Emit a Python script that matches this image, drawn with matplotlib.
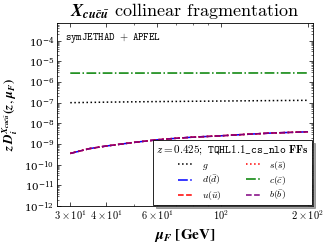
import numpy as np
import matplotlib
matplotlib.use("Agg")
import matplotlib.pyplot as plt

plt.rcParams['mathtext.fontset'] = 'cm'
plt.rcParams['font.family'] = 'serif'
plt.rcParams['font.serif'] = ['DejaVu Serif']

# scale values
mu_F = [30, 35, 40, 50, 60, 70, 80, 100, 120, 150, 200]

D_g = [1.00e-7, 1.03e-7, 1.06e-7, 1.10e-7, 1.13e-7, 1.15e-7, 1.17e-7, 1.20e-7, 1.23e-7, 1.26e-7, 1.30e-7]
D_c = [2.70e-6, 2.70e-6, 2.71e-6, 2.71e-6, 2.72e-6, 2.72e-6, 2.72e-6, 2.73e-6, 2.73e-6, 2.74e-6, 2.74e-6]
D_q = [3.5e-10, 6.0e-10, 8.0e-10, 1.2e-9, 1.6e-9, 1.9e-9, 2.15e-9, 2.5e-9, 2.9e-9, 3.4e-9, 3.9e-9]

series = [
    (r"$g$", D_g, 'black', ':'),
    (r"$d(\bar{d})$", D_q, 'blue', '-.'),
    (r"$u(\bar{u})$", D_q, 'red', '--'),
    (r"$s(\bar{s})$", D_q, 'red', ':'),
    (r"$c(\bar{c})$", D_c, 'green', '-.'),
    (r"$b(\bar{b})$", D_q, 'purple', '--'),
]

hadron = r"\mathbfit{X}_{\mathbfit{cu}\bar{\mathbfit{c}}\bar{\mathbfit{u}}}"

fig = plt.figure(figsize=(3.28, 2.47), dpi=100)
ax = fig.add_axes([0.174, 0.166, 0.780, 0.74])

for name, vals, col, ls in series:
    ax.plot(mu_F, vals, color=col, ls=ls, lw=1.1, label=name)

ax.set_xscale('log')
ax.set_yscale('log')
ax.set_xlim(27, 208)
ax.set_ylim(1e-12, 7e-4)
ax.set_yticks([10.0**k for k in range(-12, -3)])

ax.set_xticks([30, 40, 60, 100, 200])
ax.set_xticklabels([r"$3\times10^{1}$", r"$4\times10^{1}$", r"$6\times10^{1}$",
                    r"$10^{2}$", r"$2\times10^{2}$"])
ax.xaxis.set_minor_formatter(matplotlib.ticker.NullFormatter())
ax.tick_params(which='both', direction='in', top=True, right=True, labelsize=7.5, pad=2)
ax.tick_params(which='major', length=3, width=0.5)
ax.tick_params(which='minor', length=1.5, width=0.4)
for sp in ax.spines.values():
    sp.set_linewidth(0.6)

ax.set_title("$" + hadron + "$ collinear fragmentation", fontsize=13, pad=5,
             fontfamily='cmr10', math_fontfamily='stix')
ax.set_xlabel(r"$\mathbfit{\mu}_{\mathbfit{F}}\ \mathbf{[GeV]}$", fontsize=11,
              math_fontfamily='stix', labelpad=3)
ax.set_ylabel(r"$\mathbfit{z\,D}_{\mathbfit{i}}^{" + hadron + r"}\mathbf{(}\mathbfit{z},\,\mathbfit{\mu}_{\mathbfit{F}}\mathbf{)}$",
              fontsize=9.5, math_fontfamily='stix')
ax.yaxis.set_label_coords(-0.145, 0.5)

ax.text(0.03, 0.92, r"$\mathtt{symJETHAD\ +\ APFEL}$", transform=ax.transAxes,
        fontsize=7.5, va='center', ha='left')

leg = ax.legend(ncol=2, loc='lower right', fontsize=7, handlelength=1.6,
                title=r"$z = 0.425;\ \mathtt{TQHL1.1\_cs\_nlo}\ \mathbf{FFs}$",
                title_fontsize=8, frameon=True, fancybox=False, shadow=True,
                edgecolor='black', borderpad=0.3, labelspacing=0.2,
                columnspacing=2.5, borderaxespad=0.1)
leg.get_frame().set_linewidth(0.6)

fig.savefig("out.png", dpi=100)
